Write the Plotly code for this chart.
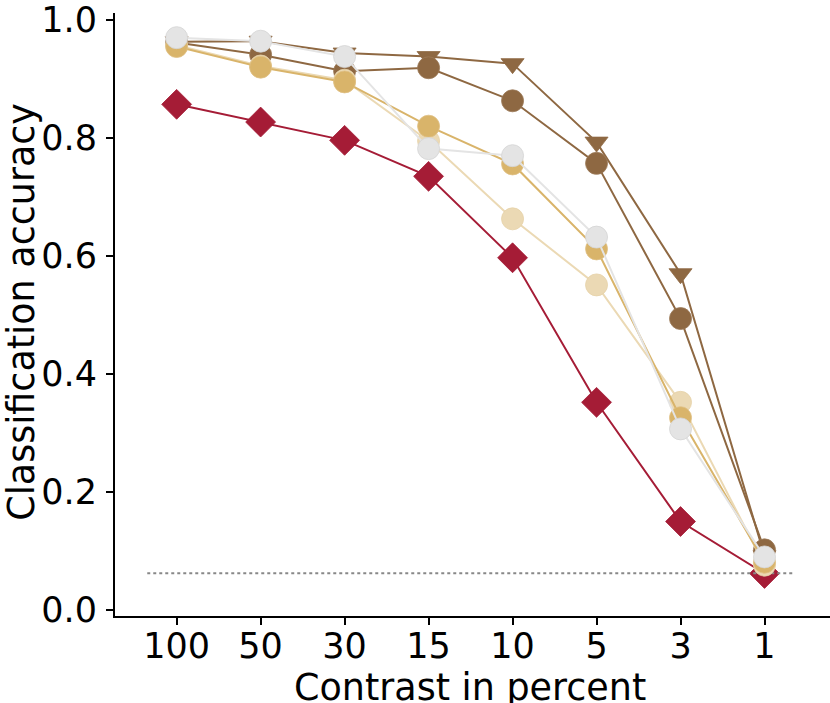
import plotly.graph_objects as go

# contrast levels (categorical x axis)
contrast = ["100", "50", "30", "15", "10", "5", "3", "1"]

# classification accuracy per model
acc_red_diamond = [0.857, 0.827, 0.796, 0.735, 0.597, 0.352, 0.150, 0.062]
acc_brown_triangle = [0.963, 0.964, 0.944, 0.938, 0.926, 0.793, 0.570, 0.092]
acc_brown_circle = [0.962, 0.941, 0.913, 0.919, 0.863, 0.757, 0.494, 0.102]
acc_tan_circle = [0.957, 0.922, 0.898, 0.795, 0.663, 0.551, 0.352, 0.076]
acc_gold_circle = [0.955, 0.920, 0.895, 0.820, 0.756, 0.612, 0.326, 0.081]
acc_grey_circle = [0.970, 0.964, 0.938, 0.782, 0.770, 0.632, 0.307, 0.090]

chance = 1 / 16
chance_x = [-0.35, 7.35]

RED = "#a51c36"
BROWN = "#8e6842"
GOLD = "#d9b46a"
TAN = "#ebd9b4"
GREY = "#e4e4e4"

xpos = list(range(len(contrast)))


def series(y, color, symbol, size, edge):
    return go.Scatter(
        x=xpos, y=y, mode="lines+markers",
        line=dict(color=color, width=2),
        marker=dict(color=color, symbol=symbol, size=size,
                    line=dict(color=edge, width=0.8)),
        showlegend=False, hoverinfo="skip",
    )


fig = go.Figure()
fig.add_trace(series(acc_red_diamond, RED, "diamond", 23, RED))
fig.add_trace(go.Scatter(x=chance_x, y=[chance, chance], mode="lines",
                         line=dict(color="#888888", width=2, dash="dot"),
                         showlegend=False, hoverinfo="skip"))
fig.add_trace(series(acc_brown_triangle, BROWN, "triangle-down", 20, BROWN))
fig.add_trace(series(acc_brown_circle, BROWN, "circle", 22, "#9c7a58"))
fig.add_trace(series(acc_tan_circle, TAN, "circle", 22, "#e6d2a8"))
fig.add_trace(series(acc_gold_circle, GOLD, "circle", 22, "#dfc085"))
fig.add_trace(series(acc_grey_circle, GREY, "circle", 22, "#d4d4d4"))

font = dict(family="DejaVu Sans", size=35, color="black")
title_font = dict(family="DejaVu Sans", size=36.5, color="black")

fig.update_layout(
    width=830, height=703,
    margin=dict(l=115, r=0, t=8, b=87),
    paper_bgcolor="white", plot_bgcolor="white",
    font=font,
    xaxis=dict(
        range=[-0.734, 7.78], tickmode="array", tickvals=xpos, ticktext=contrast,
        showline=True, linecolor="black", linewidth=2, mirror=False,
        ticks="outside", ticklen=7, tickwidth=1.5, tickcolor="black",
        showgrid=False, zeroline=False, ticklabelstandoff=-9,
        ticklabeloverflow="allow",
    ),
    yaxis=dict(
        range=[-0.0101, 1.0118], tickvals=[0, 0.2, 0.4, 0.6, 0.8, 1.0],
        tickformat=".1f",
        showline=True, linecolor="black", linewidth=2, mirror=False,
        ticks="outside", ticklen=7, tickwidth=1.5, tickcolor="black",
        showgrid=False, zeroline=False, ticklabelstandoff=2,
        ticklabeloverflow="allow",
    ),
    annotations=[
        dict(text="Contrast in percent", xref="paper", yref="paper",
             x=0.4965, y=-0.118, xanchor="center", yanchor="middle",
             showarrow=False, font=title_font),
        dict(text="Classification accuracy", xref="paper", yref="paper",
             x=-0.131, y=0.505, xanchor="center", yanchor="middle",
             textangle=-90, showarrow=False, font=title_font),
    ],
)

# the page body has a default 8px margin; drop it so the figure sits at 0,0
fig.write_html("out.html", config={"displayModeBar": False},
               post_script="document.body.style.margin='0';")
